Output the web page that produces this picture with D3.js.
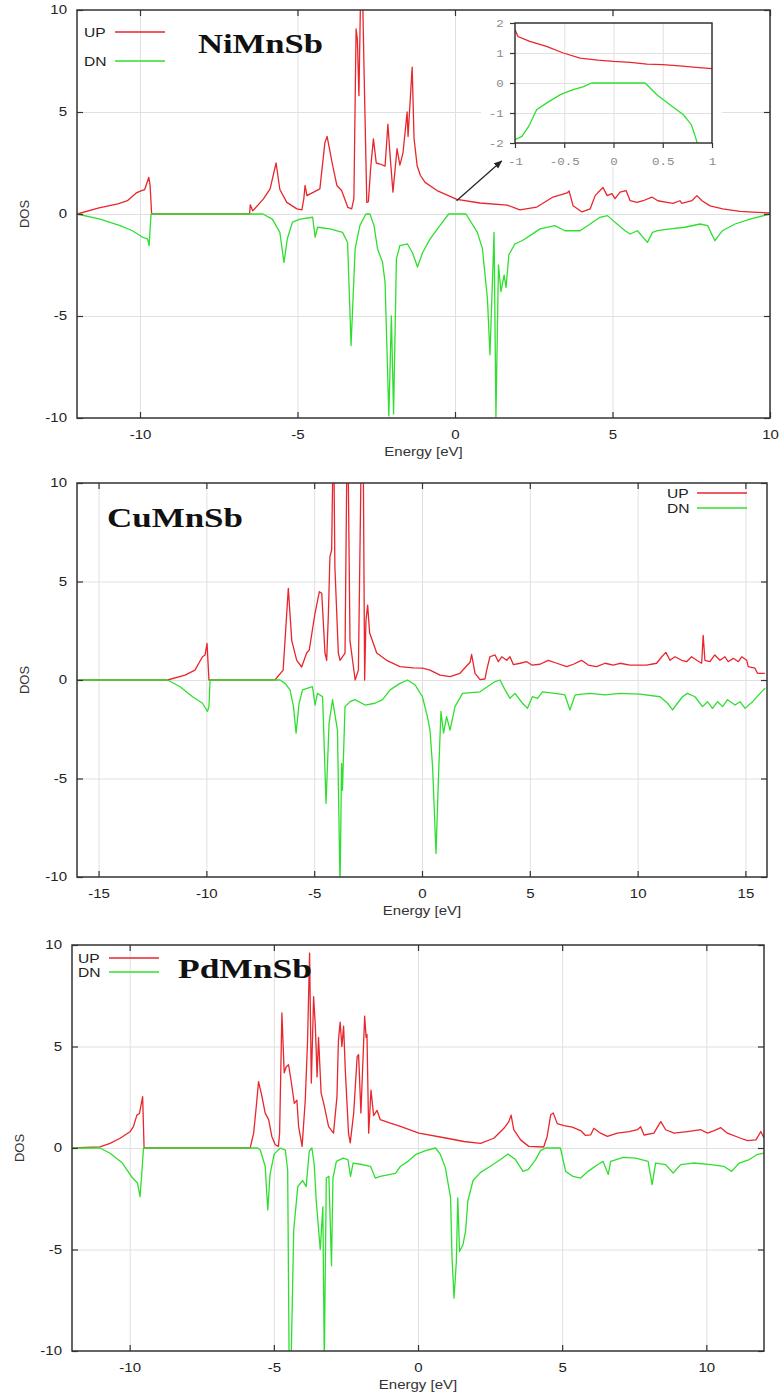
<!DOCTYPE html>
<html><head><meta charset="utf-8">
<script src="https://cdn.jsdelivr.net/npm/d3@7/dist/d3.min.js"></script>
<style>body{margin:0;background:#fff}svg{display:block}</style>
</head><body>
<svg id="c" width="783" height="1396"></svg>
<script>
// ---------------- DATA ----------------
const seriesNames = ["UP", "DN"];
const titles = ["NiMnSb", "CuMnSb", "PdMnSb"];
const yTicks = [-10, -5, 0, 5, 10];
const xTicks1 = [-10, -5, 0, 5, 10];
const xTicks2 = [-15, -10, -5, 0, 5, 10, 15];
const xTicks3 = [-10, -5, 0, 5, 10];
const insetXTicks = [-1, -0.5, 0, 0.5, 1];
const insetYTicks = [-2, -1, 0, 1, 2];

const niUp = [[-12,0],[-11.3,0.3],[-10.7,0.5],[-10.4,0.65],[-10.1,1.05],[-9.95,1.15],[-9.85,1.2],[-9.72,1.8],[-9.68,1.4],[-9.63,0],[-6.52,0],[-6.5,0.45],[-6.42,0.15],[-6.08,0.74],[-5.87,1.23],[-5.68,2.5],[-5.56,1.2],[-5.34,0.57],[-5.02,0.25],[-4.86,0.2],[-4.8,0.74],[-4.76,1.4],[-4.7,0.9],[-4.29,1.23],[-4.13,3.5],[-4.06,3.8],[-3.9,2.5],[-3.75,1.4],[-3.6,1.15],[-3.4,0.32],[-3.28,0.25],[-3.21,0.75],[-3.14,9.07],[-3.1,8.58],[-3.05,5.8],[-3.0,10.5],[-2.93,10.5],[-2.89,7.27],[-2.8,0.57],[-2.75,0.6],[-2.68,2.2],[-2.59,3.68],[-2.5,2.5],[-2.38,2.45],[-2.22,2.35],[-2.13,4.4],[-2.06,2.85],[-1.97,1.07],[-1.84,3.2],[-1.75,2.4],[-1.65,3.0],[-1.52,5.0],[-1.49,3.8],[-1.36,7.2],[-1.3,3.7],[-1.2,2.35],[-1.1,1.9],[-0.95,1.55],[-0.57,1.15],[0.06,0.72],[0.79,0.54],[1.65,0.44],[2.06,0.2],[2.6,0.34],[3.11,0.83],[3.56,1.03],[3.62,1.13],[3.75,0.4],[4.03,0.1],[4.29,0.25],[4.45,0.9],[4.54,1.05],[4.7,1.3],[4.83,0.9],[4.98,1.0],[5.08,0.75],[5.24,1.07],[5.43,1.15],[5.56,0.65],[5.78,0.57],[5.97,0.65],[6.25,0.83],[6.44,0.65],[6.73,0.57],[6.92,0.52],[7.14,0.65],[7.2,0.52],[7.52,0.65],[7.68,0.9],[7.84,0.65],[8.1,0.4],[8.5,0.25],[9.05,0.13],[9.59,0.08],[10,0.05]];
const niDn = [[-12,0],[-11.27,-0.25],[-10.63,-0.57],[-10.24,-0.82],[-9.92,-1.14],[-9.76,-1.22],[-9.71,-1.55],[-9.65,0],[-6.1,0],[-5.8,-0.25],[-5.56,-0.9],[-5.43,-2.37],[-5.32,-1.2],[-5.16,-0.4],[-4.92,-0.25],[-4.52,-0.16],[-4.44,-1.13],[-4.36,-0.65],[-3.97,-0.73],[-3.57,-0.9],[-3.41,-1.4],[-3.3,-6.45],[-3.17,-1.7],[-3.02,-0.57],[-2.83,0],[-2.7,0],[-2.57,-0.57],[-2.46,-1.7],[-2.3,-2.37],[-2.22,-3.35],[-2.1,-9.9],[-2.02,-5],[-1.95,-9.8],[-1.86,-2.2],[-1.75,-1.55],[-1.51,-1.47],[-1.35,-1.9],[-1.19,-2.6],[-1.03,-1.9],[-0.79,-1.22],[-0.48,-0.57],[-0.2,0],[0.35,0],[0.71,-0.9],[0.87,-1.7],[1.03,-4.16],[1.11,-6.9],[1.24,-0.9],[1.3,-9.95],[1.38,-2.5],[1.46,-3.8],[1.56,-3.0],[1.62,-3.6],[1.71,-2.0],[1.9,-1.47],[2.14,-1.3],[2.38,-1.06],[2.7,-0.73],[3.17,-0.57],[3.49,-0.82],[3.97,-0.82],[4.29,-0.49],[4.6,-0.16],[4.84,-0.08],[5.08,-0.41],[5.4,-0.82],[5.56,-0.98],[5.79,-0.82],[6.11,-1.39],[6.27,-0.9],[6.43,-0.82],[6.83,-0.73],[7.3,-0.65],[7.78,-0.49],[8.02,-0.57],[8.25,-1.31],[8.49,-0.82],[8.89,-0.49],[9.37,-0.25],[10,0]];

const cuUp = [[-16,0],[-11.8,0],[-10.99,0.25],[-10.53,0.5],[-10.18,1.18],[-10.06,1.27],[-9.97,1.86],[-9.88,0],[-6.82,0],[-6.44,0.5],[-6.2,4.65],[-6.04,2.0],[-5.81,1.0],[-5.58,0.66],[-5.35,1.37],[-5.23,1.52],[-4.96,3.4],[-4.76,4.48],[-4.65,4.4],[-4.5,1.37],[-4.42,1.0],[-4.34,3.4],[-4.27,6.26],[-4.19,6.6],[-4.14,10.5],[-4.08,10.5],[-4.04,5.75],[-3.88,1.37],[-3.8,1.0],[-3.57,1.37],[-3.49,10.5],[-3.42,10.5],[-3.34,2.0],[-3.1,0],[-2.95,0.5],[-2.83,10.5],[-2.72,10.5],[-2.66,0],[-2.6,3.0],[-2.52,3.8],[-2.43,2.4],[-2.1,1.37],[-1.64,1.0],[-1.02,0.68],[-0.4,0.62],[0.02,0.6],[0.37,0.5],[0.84,0.25],[1.3,0.17],[1.76,0.34],[2.23,0.9],[2.3,1.3],[2.46,0.34],[2.69,0.02],[2.92,0.05],[3.0,0.5],[3.15,1.18],[3.39,1.27],[3.54,0.93],[3.7,1.18],[3.93,1.0],[4.08,1.18],[4.24,0.78],[4.55,0.85],[4.86,0.93],[5.09,0.76],[5.47,0.8],[5.86,1.0],[6.25,0.85],[6.71,0.68],[7.02,0.8],[7.4,1.0],[7.71,0.76],[8.1,0.68],[8.49,0.85],[8.87,0.76],[9.18,0.85],[9.65,0.76],[10.42,0.76],[10.88,0.85],[11.12,1.18],[11.31,1.4],[11.5,1.0],[11.73,1.18],[12.04,1.0],[12.27,0.93],[12.5,1.18],[12.74,1.0],[12.97,0.85],[13.04,2.27],[13.12,1.0],[13.35,0.93],[13.58,1.27],[13.82,1.0],[14.05,1.18],[14.2,0.93],[14.44,1.1],[14.67,0.93],[14.83,1.18],[15.06,1.0],[15.13,0.68],[15.44,0.6],[15.56,0.34],[15.9,0.34]];
const cuDn = [[-16,0],[-11.8,0],[-11.22,-0.34],[-10.64,-0.85],[-10.18,-1.18],[-9.95,-1.6],[-9.88,-1.35],[-9.83,0],[-6.59,0],[-6.35,-0.17],[-6.12,-0.5],[-5.96,-1.35],[-5.84,-2.7],[-5.7,-1.18],[-5.54,-0.5],[-5.08,-0.34],[-4.96,-1.27],[-4.85,-0.68],[-4.61,-0.85],[-4.45,-6.26],[-4.31,-2.2],[-4.15,-1.0],[-3.92,-2.54],[-3.8,-10.5],[-3.73,-4.23],[-3.69,-5.6],[-3.57,-1.35],[-3.34,-1.1],[-3.11,-1.0],[-2.64,-1.27],[-2.18,-1.18],[-1.83,-1.0],[-1.48,-0.5],[-1.02,-0.17],[-0.67,0],[-0.32,-0.25],[0.02,-0.85],[0.25,-1.86],[0.37,-2.54],[0.49,-4.4],[0.65,-8.8],[0.77,-4.74],[0.88,-1.6],[1.0,-2.7],[1.14,-1.86],[1.3,-2.54],[1.53,-1.35],[1.88,-0.68],[2.69,-0.6],[3.39,-0.08],[3.62,0],[3.85,-0.5],[4.08,-0.93],[4.31,-0.68],[4.66,-1.18],[4.89,-1.44],[5.12,-0.85],[5.36,-0.93],[5.59,-0.6],[6.17,-0.68],[6.63,-0.76],[6.86,-1.52],[7.1,-0.76],[7.79,-0.68],[8.49,-0.76],[9.18,-0.68],[10.11,-0.72],[11.04,-0.85],[11.39,-1.18],[11.62,-1.52],[11.85,-1.18],[12.08,-0.85],[12.31,-0.68],[12.66,-0.85],[13.01,-1.35],[13.24,-1.1],[13.47,-1.44],[13.71,-1.1],[13.94,-1.35],[14.17,-1.0],[14.52,-1.27],[14.75,-1.1],[14.98,-1.44],[15.33,-1.1],[15.68,-0.68],[15.91,-0.42]];

const pdUp = [[-12,0],[-11.03,0.06],[-10.68,0.23],[-10.33,0.48],[-9.99,0.8],[-9.87,1.05],[-9.75,1.62],[-9.66,1.7],[-9.55,2.53],[-9.5,0],[-5.82,0],[-5.7,0.73],[-5.61,2.03],[-5.53,3.27],[-5.41,2.53],[-5.3,1.72],[-5.18,1.4],[-5.07,0.57],[-4.95,0.16],[-4.84,0.08],[-4.8,0.73],[-4.72,6.65],[-4.64,3.7],[-4.57,4.0],[-4.49,4.1],[-4.41,3.4],[-4.29,2.2],[-4.2,2.35],[-4.14,1.05],[-4.02,0.08],[-3.91,2.35],[-3.83,5.3],[-3.76,9.6],[-3.7,3.2],[-3.62,7.45],[-3.56,6.0],[-3.5,3.5],[-3.45,5.45],[-3.36,2.7],[-3.27,2.2],[-3.1,1.05],[-2.93,0.73],[-2.81,2.53],[-2.76,5.3],[-2.7,6.2],[-2.64,5.0],[-2.58,6.0],[-2.52,3.8],[-2.41,0.73],[-2.35,0.25],[-2.23,1.72],[-2.11,4.5],[-2.06,4.6],[-1.98,1.72],[-1.91,4.3],[-1.85,6.5],[-1.8,5.45],[-1.77,5.6],[-1.71,0.73],[-1.63,2.85],[-1.54,1.6],[-1.42,1.85],[-1.31,1.4],[-0.96,1.22],[-0.61,1.07],[0.03,0.73],[1.01,0.48],[1.59,0.32],[2.17,0.23],[2.63,0.48],[2.98,0.97],[3.15,1.3],[3.23,1.62],[3.32,0.9],[3.56,0.4],[3.84,0.08],[4.36,0.05],[4.48,0.57],[4.6,1.62],[4.69,1.73],[4.83,1.2],[5.06,1.1],[5.35,1.03],[5.64,0.86],[5.81,0.62],[5.99,0.65],[6.1,0.97],[6.33,0.73],[6.57,0.57],[6.91,0.73],[7.32,0.81],[7.61,0.9],[7.72,1.05],[7.84,0.64],[8.18,0.73],[8.42,1.3],[8.59,0.9],[8.88,0.73],[9.34,0.81],[9.81,0.9],[10.04,0.73],[10.27,0.86],[10.5,1.0],[10.73,0.73],[11.19,0.48],[11.43,0.36],[11.72,0.4],[11.89,0.81],[12.0,0.5]];
const pdDn = [[-12,0],[-11.03,0],[-10.68,-0.26],[-10.25,-0.74],[-9.9,-1.48],[-9.73,-1.72],[-9.64,-2.4],[-9.57,-1.05],[-9.52,0],[-5.56,0],[-5.47,-0.1],[-5.3,-0.9],[-5.21,-3.05],[-5.13,-1.3],[-4.99,-0.3],[-4.78,0],[-4.6,-0.1],[-4.52,-1.1],[-4.47,-10.5],[-4.4,-10.5],[-4.31,-4.04],[-4.17,-1.9],[-4.0,-1.6],[-3.88,-1.9],[-3.77,-0.15],[-3.68,0],[-3.6,-0.8],[-3.53,-2.6],[-3.39,-5.0],[-3.3,-2.9],[-3.25,-10.5],[-3.18,-1.48],[-3.09,-1.4],[-3.0,-5.8],[-2.95,-1.48],[-2.83,-0.66],[-2.6,-0.5],[-2.43,-0.57],[-2.34,-1.4],[-2.25,-0.74],[-2.0,-0.8],[-1.65,-0.9],[-1.48,-1.48],[-1.31,-1.4],[-0.78,-1.25],[-0.61,-0.9],[-0.35,-0.66],[-0.09,-0.33],[0.26,-0.13],[0.61,0],[0.78,-0.33],[0.95,-0.98],[1.13,-2.46],[1.18,-5.4],[1.25,-7.4],[1.33,-5.6],[1.38,-2.46],[1.44,-5.1],[1.56,-4.76],[1.65,-4.1],[1.73,-2.6],[1.91,-1.6],[2.17,-1.2],[2.51,-0.9],[2.86,-0.57],[3.12,-0.3],[3.38,-0.57],[3.64,-1.15],[3.82,-1.07],[4.08,-0.57],[4.25,-0.13],[4.42,0],[4.94,0],[5.12,-1.15],[5.38,-1.4],[5.64,-1.48],[5.9,-1.15],[6.25,-0.8],[6.42,-0.66],[6.6,-1.3],[6.68,-0.66],[7.12,-0.46],[7.55,-0.5],[7.98,-0.66],[8.12,-1.8],[8.24,-0.74],[8.59,-0.82],[8.85,-1.23],[9.11,-0.82],[9.54,-0.74],[10.16,-0.82],[10.6,-0.9],[10.88,-1.15],[11.14,-0.74],[11.49,-0.57],[11.75,-0.33],[12.0,-0.25]];

const insetUp = [[-1,1.78],[-0.97,1.55],[-0.85,1.39],[-0.68,1.22],[-0.51,1.0],[-0.34,0.83],[-0.16,0.76],[0,0.72],[0.17,0.69],[0.34,0.63],[0.5,0.61],[0.67,0.57],[0.84,0.52],[1,0.48]];
const insetDn = [[-1,-1.89],[-0.93,-1.78],[-0.86,-1.44],[-0.78,-0.89],[-0.68,-0.67],[-0.54,-0.39],[-0.41,-0.22],[-0.31,-0.13],[-0.22,0],[0.32,0],[0.44,-0.39],[0.57,-0.72],[0.71,-1.06],[0.79,-1.39],[0.83,-1.78],[0.85,-2.0]];
// arrow (in NiMnSb data coordinates): tail, head
const arrowPts = [[0.05, 0.65], [1.48, 2.6]];

// ---------------- LAYOUT ----------------
const RED = "#e9262c", GREEN = "#2fdf2f";
const SANS = "'Liberation Sans', Arial, sans-serif";
const SX = 1.25; // horizontal text stretch of the reference
const panels = [
  {title: titles[0], up: niUp, dn: niDn, xDomain: [-12, 10], xTicks: xTicks1,
   box: {l: 77, r: 770, t: 10, b: 418},
   legend: {x: 84, y: 32, dy: 29, l1: 115, l2: 165},
   titlePos: {x: 198, y: 53, w: 125}},
  {title: titles[1], up: cuUp, dn: cuDn, xDomain: [-16, 16], xTicks: xTicks2,
   box: {l: 77, r: 767, t: 483, b: 877},
   legend: {x: 667, y: 493, dy: 15, l1: 697, l2: 747},
   titlePos: {x: 107, y: 527, w: 136}},
  {title: titles[2], up: pdUp, dn: pdDn, xDomain: [-12, 12], xTicks: xTicks3,
   box: {l: 72, r: 764, t: 945, b: 1351},
   legend: {x: 78, y: 958, dy: 14, l1: 109, l2: 159},
   titlePos: {x: 178, y: 978, w: 134}}
];

const svg = d3.select("#c");
svg.append("rect").attr("width", 783).attr("height", 1396).attr("fill", "#fff");
const defs = svg.append("defs");
defs.append("marker").attr("id", "arr").attr("viewBox", "0 0 10 10")
  .attr("refX", 9).attr("refY", 5).attr("markerWidth", 7).attr("markerHeight", 7)
  .attr("orient", "auto").append("path").attr("d", "M0,1 L10,5 L0,9 z").attr("fill", "#222");

function stretch(sel) { sel.attr("transform", `scale(${SX},1)`); }
const plain = d => String(d);

panels.forEach((p, i) => {
  const b = p.box;
  const x = d3.scaleLinear().domain(p.xDomain).range([b.l, b.r]);
  const y = d3.scaleLinear().domain([-10, 10]).range([b.b, b.t]);
  const g = svg.append("g");

  // grid
  g.append("g").attr("transform", `translate(0,${b.b})`)
    .call(d3.axisBottom(x).tickValues(p.xTicks).tickSize(-(b.b - b.t)).tickFormat(""))
    .call(s => { s.select(".domain").remove(); s.selectAll("line").attr("stroke", "#e0e0e0").attr("stroke-width", 1); });
  g.append("g").attr("transform", `translate(${b.l},0)`)
    .call(d3.axisLeft(y).tickValues([-5, 0, 5]).tickSize(-(b.r - b.l)).tickFormat(""))
    .call(s => { s.select(".domain").remove(); s.selectAll("line").attr("stroke", "#e0e0e0").attr("stroke-width", 1); });

  // data lines
  const cid = "clip" + i;
  defs.append("clipPath").attr("id", cid).append("rect")
    .attr("x", b.l).attr("y", b.t).attr("width", b.r - b.l).attr("height", b.b - b.t);
  const line = d3.line().x(d => x(d[0])).y(d => y(d[1]));
  const lg = g.append("g").attr("clip-path", `url(#${cid})`);
  lg.append("path").datum(p.up).attr("d", line).attr("fill", "none").attr("stroke", RED).attr("stroke-width", 1.3).attr("stroke-linejoin", "round");
  lg.append("path").datum(p.dn).attr("d", line).attr("fill", "none").attr("stroke", GREEN).attr("stroke-width", 1.3).attr("stroke-linejoin", "round");

  // axes with inward ticks (mirrored)
  const tickStyle = s => { s.select(".domain").remove(); s.selectAll("line").attr("stroke", "#333").attr("stroke-width", 1.2); };
  const bx = g.append("g").attr("transform", `translate(0,${b.b})`)
    .call(d3.axisBottom(x).tickValues(p.xTicks).tickSize(-6).tickFormat(plain))
    .call(tickStyle);
  bx.selectAll("text").attr("font-family", SANS).attr("font-size", 12).attr("fill", "#222").attr("y", 12).call(stretch);
  g.append("g").attr("transform", `translate(0,${b.t})`)
    .call(d3.axisTop(x).tickValues(p.xTicks).tickSize(-6).tickFormat("")).call(tickStyle);
  const ly = g.append("g").attr("transform", `translate(${b.l},0)`)
    .call(d3.axisLeft(y).tickValues(yTicks).tickSize(-6).tickFormat(plain))
    .call(tickStyle);
  ly.selectAll("text").attr("font-family", SANS).attr("font-size", 12).attr("fill", "#222").attr("x", -8).call(stretch);
  g.append("g").attr("transform", `translate(${b.r},0)`)
    .call(d3.axisRight(y).tickValues(yTicks).tickSize(-6).tickFormat("")).call(tickStyle);

  // frame
  g.append("rect").attr("x", b.l).attr("y", b.t).attr("width", b.r - b.l).attr("height", b.b - b.t)
    .attr("fill", "none").attr("stroke", "#333").attr("stroke-width", 1.5);

  // axis titles
  const cx = (b.l + b.r) / 2;
  g.append("g").attr("transform", `translate(${cx},${b.b + 38})`)
    .append("text").attr("text-anchor", "middle").attr("font-family", SANS).attr("font-size", 12).attr("fill", "#333")
    .text("Energy [eV]").call(stretch);
  g.append("text").attr("transform", `translate(${b.l - 48},${y(0)}) rotate(-90)`)
    .attr("text-anchor", "middle").attr("font-family", SANS).attr("font-size", 13).attr("fill", "#333")
    .text("DOS");

  // legend
  const L = p.legend;
  [[seriesNames[0], RED], [seriesNames[1], GREEN]].forEach(([name, col], k) => {
    const yy = L.y + k * L.dy;
    g.append("g").attr("transform", `translate(${L.x},${yy})`)
      .append("text").attr("dy", "0.36em").attr("font-family", SANS).attr("font-size", 13).attr("fill", "#222")
      .attr("transform", `scale(1.2,1)`).text(name);
    g.append("line").attr("x1", L.l1).attr("x2", L.l2).attr("y1", yy).attr("y2", yy)
      .attr("stroke", col).attr("stroke-width", 1.3);
  });

  // title
  g.append("text").attr("x", p.titlePos.x).attr("y", p.titlePos.y)
    .attr("font-family", "'Liberation Serif', 'Times New Roman', serif").attr("font-weight", "bold")
    .attr("font-size", 28).attr("fill", "#111")
    .attr("textLength", p.titlePos.w).attr("lengthAdjust", "spacingAndGlyphs")
    .text(p.title);

  // inset for NiMnSb
  if (i === 0) {
    const ib = {l: 515, r: 712, t: 23, b: 143};
    const ix = d3.scaleLinear().domain([-1, 1]).range([ib.l, ib.r]);
    const iy = d3.scaleLinear().domain([-2, 2]).range([ib.b, ib.t]);
    const ig = svg.append("g");
    ig.append("rect").attr("x", ib.l - 34).attr("y", ib.t - 6).attr("width", ib.r - ib.l + 44).attr("height", ib.b - ib.t + 30).attr("fill", "#fff");
    ig.append("g").attr("transform", `translate(0,${ib.b})`)
      .call(d3.axisBottom(ix).tickValues([-0.5, 0, 0.5]).tickSize(-(ib.b - ib.t)).tickFormat(""))
      .call(s => { s.select(".domain").remove(); s.selectAll("line").attr("stroke", "#e0e0e0"); });
    ig.append("g").attr("transform", `translate(${ib.l},0)`)
      .call(d3.axisLeft(iy).tickValues([-1, 0, 1]).tickSize(-(ib.r - ib.l)).tickFormat(""))
      .call(s => { s.select(".domain").remove(); s.selectAll("line").attr("stroke", "#e0e0e0"); });
    defs.append("clipPath").attr("id", "clipInset").append("rect")
      .attr("x", ib.l).attr("y", ib.t).attr("width", ib.r - ib.l).attr("height", ib.b - ib.t);
    const iline = d3.line().x(d => ix(d[0])).y(d => iy(d[1]));
    const il = ig.append("g").attr("clip-path", "url(#clipInset)");
    il.append("path").datum(insetUp).attr("d", iline).attr("fill", "none").attr("stroke", RED).attr("stroke-width", 1.3);
    il.append("path").datum(insetDn).attr("d", iline).attr("fill", "none").attr("stroke", GREEN).attr("stroke-width", 1.3);
    const mono = "'Liberation Mono', 'DejaVu Sans Mono', monospace";
    const ibx = ig.append("g").attr("transform", `translate(0,${ib.b})`)
      .call(d3.axisBottom(ix).tickValues(insetXTicks).tickSize(5).tickPadding(10).tickFormat(plain))
      .call(tickStyle);
    ibx.selectAll("text").attr("font-family", mono).attr("font-size", 10).attr("fill", "#8a8a8a").call(stretch);
    const iby = ig.append("g").attr("transform", `translate(${ib.l},0)`)
      .call(d3.axisLeft(iy).tickValues(insetYTicks).tickSize(5).tickFormat(plain))
      .call(tickStyle);
    iby.selectAll("text").attr("font-family", mono).attr("font-size", 10).attr("fill", "#8a8a8a").attr("x", -9).call(stretch);
    ig.append("rect").attr("x", ib.l).attr("y", ib.t).attr("width", ib.r - ib.l).attr("height", ib.b - ib.t)
      .attr("fill", "none").attr("stroke", "#333").attr("stroke-width", 1.5);
    // arrow
    svg.append("line").attr("x1", x(arrowPts[0][0])).attr("y1", y(arrowPts[0][1]))
      .attr("x2", x(arrowPts[1][0])).attr("y2", y(arrowPts[1][1]))
      .attr("stroke", "#222").attr("stroke-width", 1.2).attr("marker-end", "url(#arr)");
  }
});
</script>
</body></html>
